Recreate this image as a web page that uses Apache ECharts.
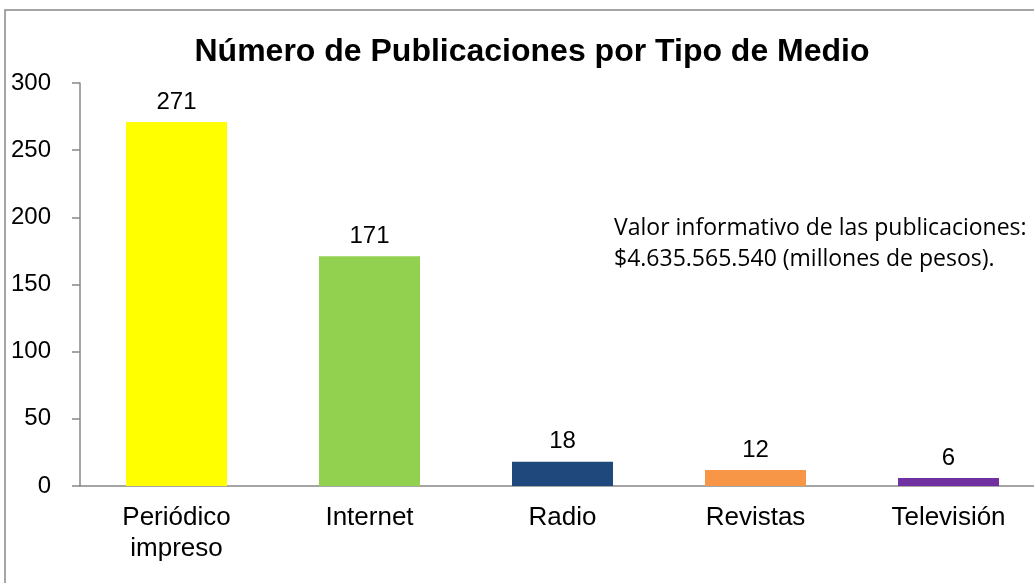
<!DOCTYPE html>
<html>
<head>
<meta charset="utf-8">
<script src="https://cdn.jsdelivr.net/npm/echarts@6/dist/echarts.min.js"></script>
<style>
  html, body { margin: 0; padding: 0; background: #fff; overflow: hidden; }
  #main { width: 1045px; height: 583px; }
</style>
</head>
<body>
<div id="main"></div>
<script>
const categories = ['Periódico\nimpreso', 'Internet', 'Radio', 'Revistas', 'Televisión'];
const values = [271, 171, 18, 12, 6];
const colors = ['#ffff00', '#92d050', '#1f497d', '#f79646', '#7030a0'];
const yTicks = [0, 50, 100, 150, 200, 250, 300];

const chartDom = document.getElementById('main');
const myChart = echarts.init(chartDom);

const option = {
  animation: false,
  title: {
    text: 'Número de Publicaciones por Tipo de Medio',
    left: 527,
    textAlign: 'center',
    top: 31,
    textStyle: { fontFamily: 'Liberation Sans', fontSize: 32, fontWeight: 'bold', color: '#000' }
  },
  graphic: [
    {
      type: 'rect',
      shape: { x: 5, y: 10, width: 1100, height: 700 },
      style: { fill: 'none', stroke: '#888', lineWidth: 1.5 }
    },
    {
      type: 'text',
      left: 614,
      top: 213,
      style: {
        text: 'Valor informativo de las publicaciones:\n$4.635.565.540 (millones de pesos).',
        fontFamily: 'Open Sans',
        fontSize: 23,
        lineHeight: 31,
        fill: '#000'
      }
    }
  ],
  grid: { left: 80, top: 83, right: 0, height: 403 },
  xAxis: {
    type: 'category',
    data: categories,
    axisLine: { lineStyle: { color: '#888', width: 1.5 } },
    axisTick: { show: false },
    axisLabel: { color: '#000', fontFamily: 'Liberation Sans', fontSize: 26, margin: 16, lineHeight: 31 }
  },
  yAxis: {
    type: 'value',
    min: yTicks[0],
    max: yTicks[yTicks.length - 1],
    interval: 50,
    splitLine: { show: false },
    axisLine: { show: true, lineStyle: { color: '#888', width: 1.5 } },
    axisTick: { show: true, length: 8, lineStyle: { color: '#888', width: 1.5 } },
    axisLabel: { color: '#000', fontFamily: 'Liberation Sans', fontSize: 24, margin: 29 }
  },
  series: [
    {
      type: 'bar',
      barWidth: 101,
      data: values.map((v, i) => ({ value: v, itemStyle: { color: colors[i] } })),
      label: {
        show: true,
        position: 'top',
        distance: 8,
        color: '#000',
        fontFamily: 'Liberation Sans',
        fontSize: 24
      }
    }
  ]
};
option && myChart.setOption(option);
</script>
</body>
</html>
